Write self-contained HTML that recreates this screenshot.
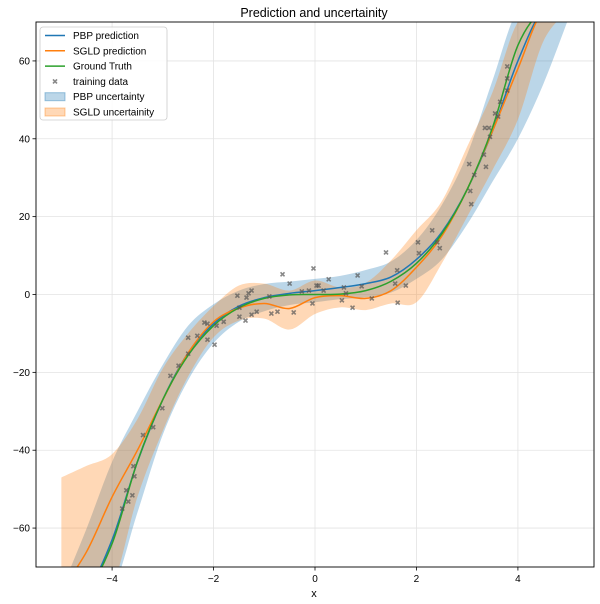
<!DOCTYPE html>
<html><head><meta charset="utf-8"><style>
html,body{margin:0;padding:0;background:#fff;width:600px;height:604px;overflow:hidden;}
svg{display:block;overflow:hidden;}
svg text{font-family:"Liberation Sans","DejaVu Sans",sans-serif;}
</style></head><body>
<svg id="chart" width="600" height="604" xmlns="http://www.w3.org/2000/svg">
<defs><clipPath id="clip"><rect x="36" y="22" width="558" height="545"/></clipPath></defs>
<rect width="600" height="604" fill="#fff"/>
<text x="314" y="17" text-anchor="middle" font-size="12.5">Prediction and uncertainity</text>
<g id="grid"></g>
<g id="plot" clip-path="url(#clip)"></g>
<rect x="36" y="22" width="558" height="545" fill="none" stroke="#000" stroke-width="0.9"/>
<g id="ticks"></g>
<text x="314" y="597" text-anchor="middle" font-size="11">x</text>
<g id="legend"></g>
</svg>
<script>
const xsGrid = [-5,-4.5,-4,-3.5,-3,-2.5,-2,-1.5,-1,-0.5,0,0.5,1,1.5,2,2.5,3,3.5,4,4.5,5];
const groundTruth = [-125,-91.1,-64,-42.9,-27,-15.6,-8,-3.4,-1,-0.1,0,0.1,1,3.4,8,15.6,27,42.9,64,91.1,125];
const pbpPred = [-118,-88,-63,-43,-27,-15,-7.5,-3,-0.8,0.3,1,1.8,2.8,4.5,9,16,27,42,60,82,108];
const pbpHalf = [37,28,20,13,9,7,5,4,3.5,3,3,3,3.5,4,5,7,9,13,20,28,37];
const sgldPred = [-80,-66,-52,-40,-27,-15,-7,-3.5,-2.3,-3.6,-0.8,-0.3,-1,1,7,15,27,42,58,80,105];
const sgldUpper = [-47,-44,-41,-32,-19,-10,-3,2.3,2.8,1,3.6,1.8,3,8.8,16.5,24,38,52,70,95,125];
const sgldLower = [-115,-95,-75,-52,-35,-21,-11,-6.7,-6.2,-9,-5,-3.3,-4,-2.3,-2,8,20,32,45,65,90];
const trainX = [-3.80,-3.72,-3.68,-3.60,-3.58,-3.56,-3.39,-3.19,-3.01,-2.85,-2.69,-2.50,-2.50,-2.32,-2.18,-2.12,-2.12,-1.98,-1.94,-1.80,-1.53,-1.49,-1.49,-1.37,-1.35,-1.31,-1.25,-1.25,-1.15,-0.90,-0.86,-0.74,-0.64,-0.50,-0.42,-0.26,-0.12,-0.05,-0.03,0.03,0.07,0.17,0.27,0.53,0.57,0.61,0.74,0.84,0.92,1.12,1.40,1.58,1.62,1.63,1.79,2.03,2.05,2.31,2.41,2.46,3.04,3.06,3.08,3.14,3.33,3.37,3.35,3.43,3.45,3.55,3.61,3.65,3.79,3.79,3.79];
const trainY = [-55.0,-50.3,-53.2,-51.6,-44.1,-46.7,-36.1,-34.1,-29.2,-20.9,-18.3,-15.2,-11.1,-10.6,-7.2,-7.5,-11.6,-12.9,-8.0,-7.0,-0.3,-3.4,-5.7,-6.7,-0.8,0.3,1.0,-5.2,-4.4,-0.5,-4.9,-4.4,5.2,2.8,-4.6,0.8,1.0,-2.3,6.7,2.3,2.3,1.0,3.9,-1.5,1.8,0.3,-3.4,4.9,2.1,-1.0,10.8,2.8,6.2,-2.1,2.3,13.4,10.6,16.5,13.4,11.9,33.5,26.6,23.2,30.7,35.9,32.8,42.8,42.8,40.5,46.5,45.7,49.5,58.6,55.5,52.4];
const xTicks = [-4,-2,0,2,4];
const yTicks = [-60,-40,-20,0,20,40,60];

const L=36,R=594,T=22,B=567, X0=-5.5,X1=5.5,Y0=-70,Y1=70;
const sx = v => L + (v-X0)/(X1-X0)*(R-L);
const sy = v => B - (v-Y0)/(Y1-Y0)*(B-T);
const syc = v => Math.max(10, Math.min(590, sy(v)));
const NS="http://www.w3.org/2000/svg";
function mk(tag, attrs, parent){const e=document.createElementNS(NS,tag);for(const k in attrs)e.setAttribute(k,attrs[k]);parent.appendChild(e);return e;}
function smooth(pts){
  let d=`M${pts[0][0]},${pts[0][1]}`;
  for(let i=0;i<pts.length-1;i++){
    const p0=pts[Math.max(0,i-1)],p1=pts[i],p2=pts[i+1],p3=pts[Math.min(pts.length-1,i+2)];
    const c1=[p1[0]+(p2[0]-p0[0])/6,Math.max(10,Math.min(590,p1[1]+(p2[1]-p0[1])/6))];
    const c2=[p2[0]-(p3[0]-p1[0])/6,Math.max(10,Math.min(590,p2[1]-(p3[1]-p1[1])/6))];
    d+=` C${c1[0]},${c1[1]} ${c2[0]},${c2[1]} ${p2[0]},${p2[1]}`;
  }
  return d;
}
const grid=document.getElementById('grid'),plot=document.getElementById('plot'),ticks=document.getElementById('ticks'),leg=document.getElementById('legend');
xTicks.forEach(t=>{
  const g=mk('line',{x1:sx(t),x2:sx(t),y1:T,y2:B,stroke:'#e3e3e3','stroke-width':0.8},grid);
  
  
  mk('line',{x1:sx(t),x2:sx(t),y1:B,y2:B+3.5,stroke:'#000','stroke-width':0.8},ticks);
  const tx=mk('text',{x:sx(t),y:B+15,'text-anchor':'middle','font-size':10},ticks);
  tx.textContent=t<0?'\u2212'+Math.abs(t):t;
  
  
});
yTicks.forEach(t=>{
  const g=mk('line',{x1:L,x2:R,y1:sy(t),y2:sy(t),stroke:'#e3e3e3','stroke-width':0.8},grid);
  
  
  mk('line',{x1:L-3.5,x2:L,y1:sy(t),y2:sy(t),stroke:'#000','stroke-width':0.8},ticks);
  const tx=mk('text',{x:L-6,y:sy(t)+3.5,'text-anchor':'end','font-size':10},ticks);
  tx.textContent=t<0?'\u2212'+Math.abs(t):t;
  
  
});
function band(up,lo,color,name){
  const top=xsGrid.map((x,i)=>[sx(x),syc(up[i])]);
  const bot=xsGrid.map((x,i)=>[sx(x),syc(lo[i])]).reverse();
  let d=smooth(top)+' L'+smooth(bot).slice(1)+' Z';
  const p=mk('path',{d:d,fill:color,'fill-opacity':0.3,stroke:'none'},plot);
  
  
}
band(pbpPred.map((v,i)=>v+pbpHalf[i]),pbpPred.map((v,i)=>v-pbpHalf[i]),'#1f77b4','pbp-uncertainty-band');
band(sgldUpper,sgldLower,'#ff7f0e','sgld-uncertainty-band');
function line(vals,color,name){
  const p=mk('path',{d:smooth(xsGrid.map((x,i)=>[sx(x),syc(vals[i])])),fill:'none',stroke:color,'stroke-width':1.5},plot);
  
  
}
line(pbpPred,'#1f77b4','pbp-prediction-line');
line(sgldPred,'#ff7f0e','sgld-prediction-line');
line(groundTruth,'#2ca02c','ground-truth-line');
trainX.forEach((x,i)=>{
  const cx=sx(x),cy=syc(trainY[i]);
  const g=mk('path',{d:`M${cx-2},${cy-2}L${cx+2},${cy+2}M${cx-2},${cy+2}L${cx+2},${cy-2}`,stroke:'#555','stroke-width':1.6,'stroke-opacity':0.7},plot);
  
  
});
const lb=mk('rect',{x:40,y:27,width:127,height:93,rx:3,fill:'#fff','fill-opacity':0.85,stroke:'#ccc','stroke-width':0.8},leg);


const entries=[['PBP prediction','line','#1f77b4'],['SGLD prediction','line','#ff7f0e'],['Ground Truth','line','#2ca02c'],['training data','x','#555'],['PBP uncertainty','patch','#1f77b4'],['SGLD uncertainity','patch','#ff7f0e']];
entries.forEach((e,i)=>{
  const y=35.5+i*15.3;
  const g=mk('g',{},leg);
  
  
  if(e[1]==='line') mk('line',{x1:45,x2:65,y1:y,y2:y,stroke:e[2],'stroke-width':1.5},g);
  else if(e[1]==='x') mk('path',{d:`M53,${y-2}L57,${y+2}M53,${y+2}L57,${y-2}`,stroke:e[2],'stroke-width':1.6,'stroke-opacity':0.7},g);
  else mk('rect',{x:45,y:y-4,width:20,height:8,fill:e[2],'fill-opacity':0.3,stroke:e[2],'stroke-opacity':0.4},g);
  const t=mk('text',{x:73,y:y+3.5,'font-size':10},g);
  t.textContent=e[0];
});
</script>
</body></html>
